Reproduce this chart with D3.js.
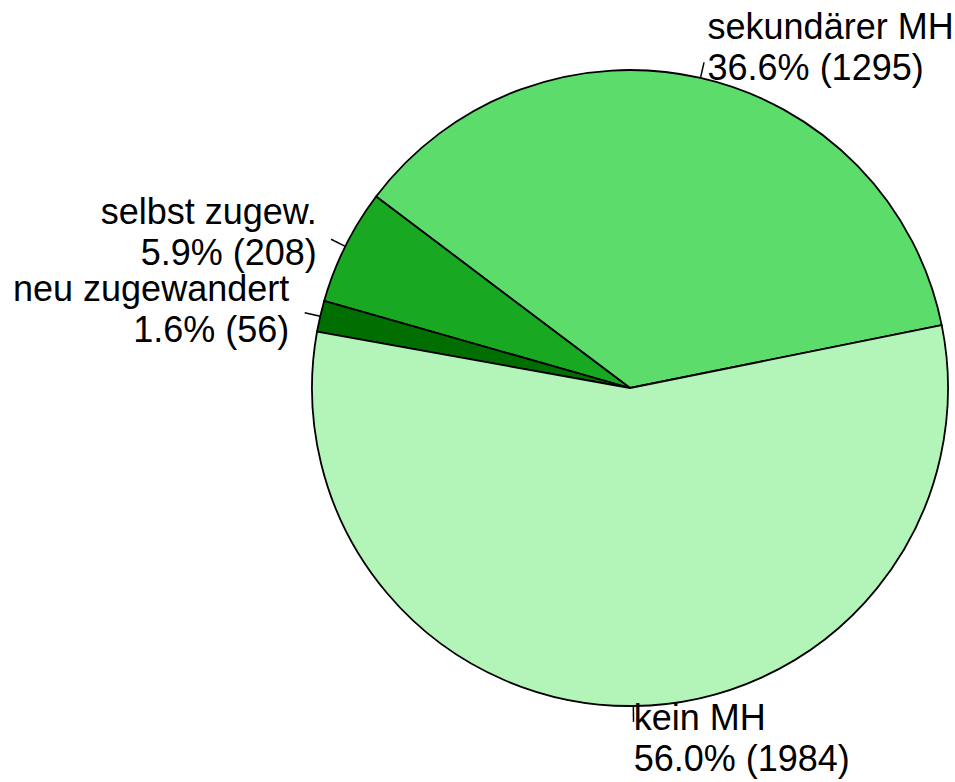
<!DOCTYPE html>
<html>
<head>
<meta charset="utf-8">
<script src="https://cdn.jsdelivr.net/npm/d3@7"></script>
<style>
html,body{margin:0;padding:0;background:#fff;}
svg{display:block;}
</style>
</head>
<body>
<svg id="chart" width="955" height="782"></svg>
<script>
const categories = ["sekundärer MH", "selbst zugew.", "neu zugewandert", "kein MH"];
const counts = [1295, 208, 56, 1984];
const percents = ["36.6", "5.9", "1.6", "56.0"];
const colors = ["#5CDC6A", "#18A822", "#006E00", "#B3F5B9"];

const cx = 630, cy = 388, r = 318;
const startDeg = 11.4; // math angle (ccw from 3 o'clock) where first slice starts
const svg = d3.select("#chart");
const g = svg.append("g").attr("transform", `translate(${cx},${cy})`);

const toRad = d => d * Math.PI / 180;
const d3Start = toRad(90 - startDeg);
const pie = d3.pie().sort(null).value(d => d.n)
  .startAngle(d3Start).endAngle(d3Start - 2 * Math.PI);
const data = categories.map((c, i) => ({name: c, n: counts[i], pct: percents[i], col: colors[i]}));
const arcs = pie(data);
const arc = d3.arc().innerRadius(0).outerRadius(r);

g.selectAll("path.slice").data(arcs).enter().append("path")
  .attr("class", "slice")
  .attr("d", arc)
  .attr("fill", d => d.data.col)
  .attr("stroke", "#000")
  .attr("stroke-width", 1.8)
  .attr("stroke-linejoin", "round");

const fontSize = 36, lineH = 41;
arcs.forEach(d => {
  const mid = (d.startAngle + d.endAngle) / 2; // d3 angle, clockwise from 12
  const sx = Math.sin(mid), sy = -Math.cos(mid);
  g.append("line")
    .attr("x1", r * sx).attr("y1", r * sy)
    .attr("x2", 1.05 * r * sx).attr("y2", 1.05 * r * sy)
    .attr("stroke", "#000").attr("stroke-width", 1.5);
  const lx = 1.1 * r * sx, ly = 1.1 * r * sy;
  const t = g.append("text")
    .attr("x", lx).attr("y", ly)
    .attr("text-anchor", sx >= 0 ? "start" : "end")
    .attr("font-family", "'Liberation Sans', Arial, Helvetica, sans-serif")
    .attr("font-size", fontSize)
    .attr("fill", "#000");
  const lines = [d.data.name, `${d.data.pct}% (${d.data.n})`];
  lines.forEach((s, i) => {
    t.append("tspan").attr("x", lx)
      .attr("y", ly + (i - 0.5) * lineH)
      .attr("dominant-baseline", "central")
      .text(s);
  });
});
</script>
</body>
</html>
